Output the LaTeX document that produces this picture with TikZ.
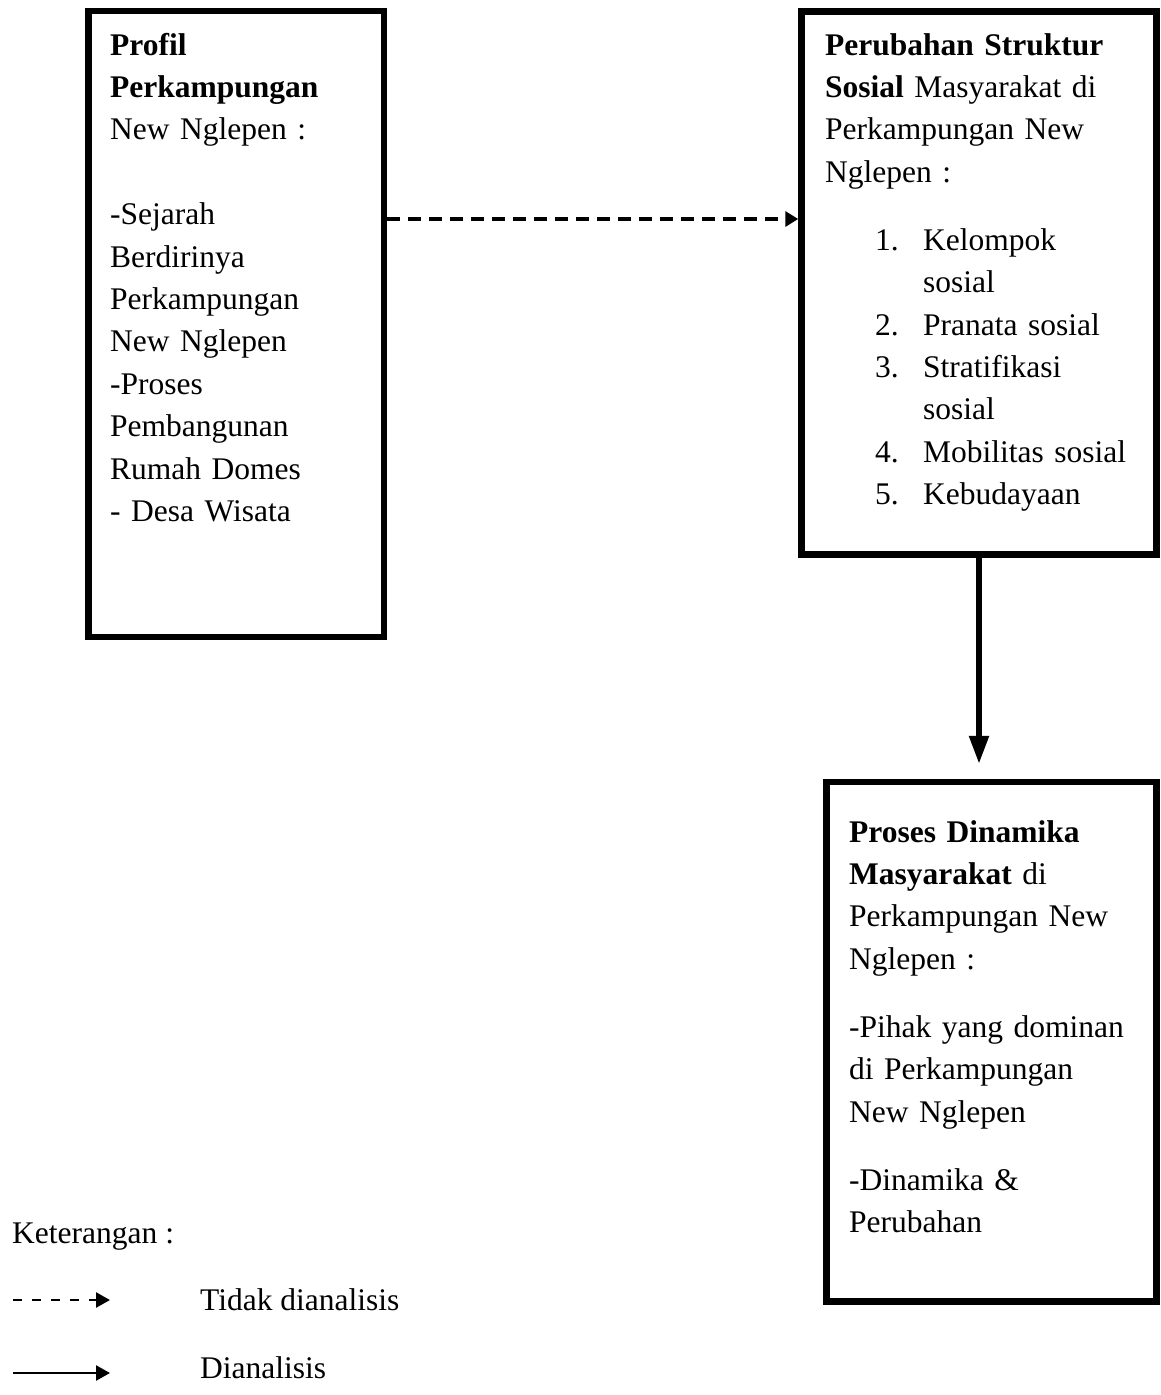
\documentclass[tikz,border=0pt]{standalone}
\usepackage{fontspec}
\setmainfont{Liberation Serif}
\usetikzlibrary{arrows.meta}

\newcommand{\butir}[2]{\hspace*{50pt}\makebox[48pt][l]{#1}#2}
\newcommand{\lanjut}[1]{\hspace*{98pt}#1}

\tikzset{
  kotak/.style={draw, line width=6.5pt, inner sep=0pt},
  isi/.style={anchor=north west, inner sep=0pt, align=left, text width=#1,
    font=\fontsize{31.5}{42.4}\selectfont},
  ket/.style={anchor=base west, inner sep=0pt, font=\fontsize{31.5}{42.4}\selectfont},
  putus/.style={line width=3.5pt, dash pattern=on 13pt off 8pt,
    -{Triangle[length=13pt, width=15pt]}},
  penuh/.style={line width=5.5pt, -{Triangle[length=28pt, width=19pt]}},
  putuskecil/.style={line width=2.5pt, dash pattern=on 9pt off 10pt,
    -{Triangle[length=14pt, width=15pt]}},
  penuhkecil/.style={line width=2.5pt, -{Triangle[length=14pt, width=15pt]}}
}

\begin{document}
\begin{tikzpicture}[x=1pt, y=-1pt]
  \useasboundingbox (0,0) rectangle (1160,1395);

  % Define boxes
  \node[kotak, minimum width=295.5pt, minimum height=626pt] (profil) at (236.25,324) {};
  \node[kotak, minimum width=355pt, minimum height=543pt] (struktur) at (979,283) {};
  \node[kotak, minimum width=330pt, minimum height=519.5pt] (dinamika) at (991.5,1041.75) {};

  % Box texts
  \node[isi=270pt] (profiltxt) at (110,25.3) {\strut\textbf{Profil}\\
    \textbf{Perkampungan}\\
    New Nglepen :\\[42.4pt]
    -Sejarah\\
    Berdirinya\\
    Perkampungan\\
    New Nglepen\\
    -Proses\\
    Pembangunan\\
    Rumah Domes\\
    - Desa Wisata};

  \node[isi=330pt] (strukturtxt) at (825,25.3) {\strut\textbf{Perubahan Struktur}\\
    \textbf{Sosial} Masyarakat di\\
    Perkampungan New\\
    Nglepen :\\[25.6pt]
    \butir{1.}{Kelompok}\\
    \lanjut{sosial}\\
    \butir{2.}{Pranata sosial}\\
    \butir{3.}{Stratifikasi}\\
    \lanjut{sosial}\\
    \butir{4.}{Mobilitas sosial}\\
    \butir{5.}{Kebudayaan}};

  \node[isi=300pt] (dinamikatxt) at (849,812.3) {\strut\textbf{Proses Dinamika}\\
    \textbf{Masyarakat} di\\
    Perkampungan New\\
    Nglepen :\\[25.6pt]
    -Pihak yang dominan\\
    di Perkampungan\\
    New Nglepen\\[25.6pt]
    -Dinamika \&\\
    Perubahan};

  % Draw connectors
  \draw[putus] ([yshift=105pt]profil.east) -- ([yshift=105pt]profil.east -| struktur.west);
  \draw[penuh] (struktur.south) -- ([yshift=15pt]struktur.south |- dinamika.north);

  % Legend
  \node[ket] (keterangan) at (12,1243) {Keterangan :};
  \coordinate (putusA) at (13,1300);
  \coordinate (putusB) at (110,1300);
  \coordinate (penuhA) at (13,1373);
  \coordinate (penuhB) at (110,1373);
  \draw[putuskecil] (putusA) -- (putusB);
  \draw[penuhkecil] (penuhA) -- (penuhB);
  \node[ket] (tidak) at (200,1310) {Tidak dianalisis};
  \node[ket] (dianalisis) at (200,1378) {Dianalisis};
\end{tikzpicture}
\end{document}
